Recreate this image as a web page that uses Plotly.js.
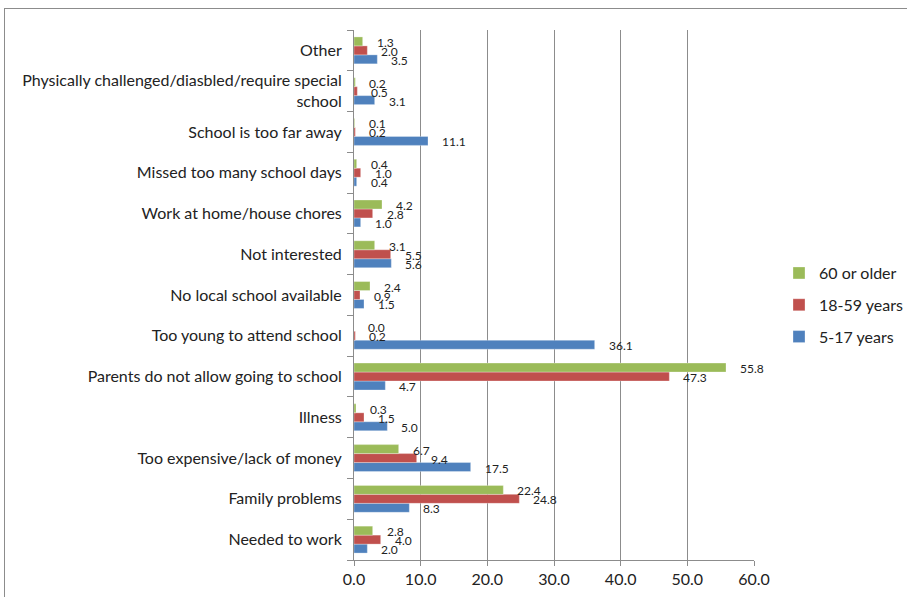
<!DOCTYPE html>
<html><head><meta charset="utf-8">
<script src="https://cdn.plot.ly/plotly-3.0.1.min.js"></script>
<style>
html,body{margin:0;padding:0;width:907px;height:597px;overflow:hidden;background:#fff;}
#chart{width:907px;height:597px;}
#frame{position:absolute;left:4px;top:8px;width:1000px;height:1000px;border:1px solid #8c8c8c;pointer-events:none;}
</style></head>
<body>
<div id="chart"></div>
<div id="frame"></div>
<script>
const categories = [
  "Needed to work",
  "Family problems",
  "Too expensive/lack of money",
  "Illness",
  "Parents do not allow going to school",
  "Too young to attend school",
  "No local school available",
  "Not interested",
  "Work at home/house chores",
  "Missed too many school days",
  "School is too far away",
  "Physically challenged/diasbled/require special<br>school",
  "Other"
];
const age5to17 = [2.0, 8.3, 17.5, 5.0, 4.7, 36.1, 1.5, 5.6, 1.0, 0.4, 11.1, 3.1, 3.5];
const age18to59 = [4.0, 24.8, 9.4, 1.5, 47.3, 0.2, 0.9, 5.5, 2.8, 1.0, 0.2, 0.5, 2.0];
const age60plus = [2.8, 22.4, 6.7, 0.3, 55.8, 0.0, 2.4, 3.1, 4.2, 0.4, 0.1, 0.2, 1.3];
const seriesNames = ["5-17 years", "18-59 years", "60 or older"];
const seriesColors = ["#4f81bd", "#c0504d", "#9bbb59"];
const seriesValues = [age5to17, age18to59, age60plus];
const xTicks = [0, 10, 20, 30, 40, 50, 60];

const FONT = "Lato, 'Open Sans', sans-serif";
const margin = {l: 354, r: 153, t: 30, b: 37, autoexpand: false};
const plotH = 597 - margin.t - margin.b;
const bargap = 0.34;
const barPx = (plotH / categories.length) * (1 - bargap) / 3;

const traces = seriesNames.map((name, i) => ({
  type: 'bar',
  orientation: 'h',
  name: name,
  x: seriesValues[i],
  y: categories,
  legendgroup: 'g' + i,
  legendrank: 1000 - i,
  marker: {color: seriesColors[i], line: {color: 'rgba(255,255,255,0.6)', width: 0.5}},
  hoverinfo: 'x+name'
}));

const annotations = [];
seriesValues.forEach((vals, i) => {
  vals.forEach((v, j) => {
    annotations.push({
      x: v, y: categories[j], xref: 'x', yref: 'y',
      text: v.toFixed(1), showarrow: false,
      xanchor: 'left', yanchor: 'middle',
      xshift: 12, yshift: (i - 1) * barPx - 1,
      font: {family: FONT, size: 12, color: '#222'}
    });
  });
});

const layout = {
  width: 907, height: 597,
  margin: margin,
  paper_bgcolor: '#fff', plot_bgcolor: '#fff',
  barmode: 'group', bargap: bargap, bargroupgap: 0,
  font: {family: FONT, size: 16, color: '#222'},
  showlegend: true,
  legend: {
    x: 1.0625, xanchor: 'left', y: 0.481, yanchor: 'middle',
    traceorder: 'grouped', tracegroupgap: 8,
    font: {family: FONT, size: 16, color: '#222'},
    itemwidth: 30
  },
  xaxis: {
    range: [0, 60], tickvals: xTicks, tickformat: '.1f',
    showgrid: true, gridcolor: '#8c8c8c', gridwidth: 1,
    zeroline: false, showline: true, linecolor: '#8c8c8c', linewidth: 1,
    ticks: 'outside', ticklen: 5, tickcolor: '#8c8c8c',
    tickfont: {family: FONT, size: 16, color: '#222'},
    fixedrange: true
  },
  yaxis: {
    type: 'category', categoryorder: 'array', categoryarray: categories,
    showgrid: false, zeroline: false, showline: true, linecolor: '#8c8c8c', linewidth: 1,
    ticks: 'outside', tickson: 'boundaries', ticklen: 6, tickcolor: '#8c8c8c',
    ticklabelstandoff: 8,
    tickfont: {family: FONT, size: 16, color: '#222'},
    automargin: false, fixedrange: true
  },
  annotations: annotations
};

Plotly.newPlot('chart', traces, layout, {displayModeBar: false, staticPlot: true});
</script>
</body></html>
